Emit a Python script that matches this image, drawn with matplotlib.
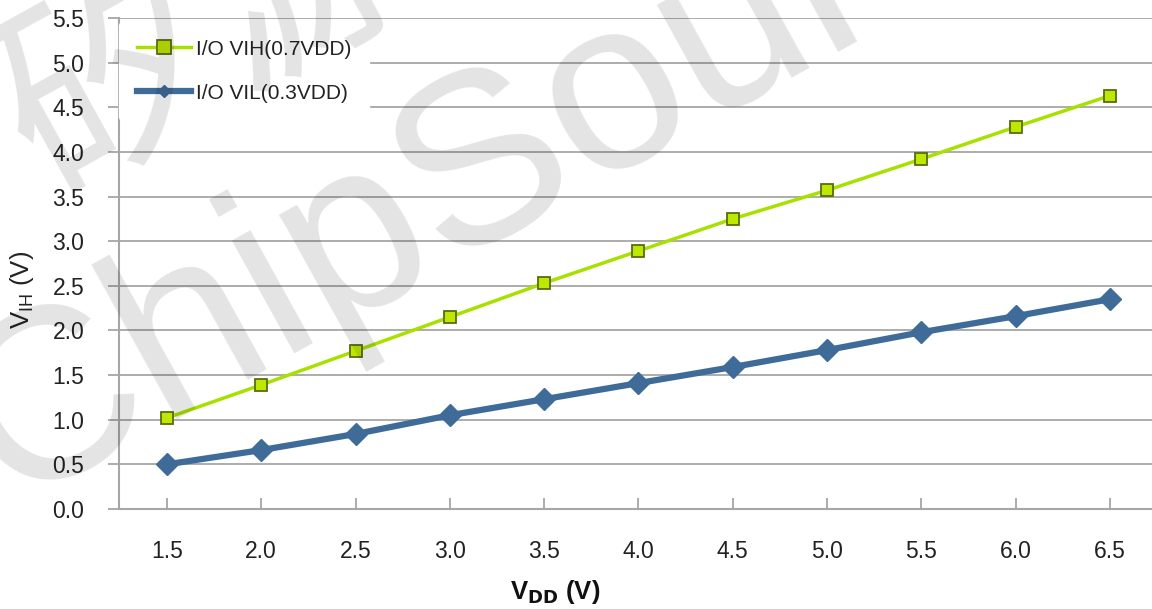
import numpy as np
import matplotlib
matplotlib.use('Agg')
import matplotlib.pyplot as plt

plt.rcParams['font.family'] = ['Liberation Sans', 'Noto Sans CJK SC', 'DejaVu Sans']

vdd = [1.5, 2.0, 2.5, 3.0, 3.5, 4.0, 4.5, 5.0, 5.5, 6.0, 6.5]
vih = [1.02, 1.39, 1.77, 2.15, 2.53, 2.89, 3.25, 3.57, 3.92, 4.28, 4.63]
vil = [0.50, 0.66, 0.84, 1.05, 1.23, 1.41, 1.59, 1.78, 1.98, 2.16, 2.35]
xticks = ['1.5', '2.0', '2.5', '3.0', '3.5', '4.0', '4.5', '5.0', '5.5', '6.0', '6.5']
yticks = np.arange(0, 5.51, 0.5)

grey = '#a6a6a6'
green = '#a8e000'
blue = '#3f6b99'

fig = plt.figure(figsize=(11.52, 6.09), dpi=100, facecolor='white')
ax = fig.add_axes([119/1152, 1-509/609, 1-119/1152, (509-18)/609])

ax.plot(vdd, vih, color=green, lw=2.5, marker='s', ms=8,
        mfc='#bfe800', mec='#5b6b10', mew=1.3, label='I/O VIH(0.7VDD)', zorder=4)
ax.plot(vdd, vil, color=blue, lw=4.5, marker='D', ms=11,
        mfc=blue, mec=blue, label='I/O VIL(0.3VDD)', zorder=4)

ax.set_xlim(1.5 - 0.254, 6.5 + 0.223)
ax.set_ylim(0, 5.5)
ax.set_xticks(vdd)
ax.set_xticklabels(xticks)
ax.set_yticks(yticks)
ax.set_yticklabels(['%.1f' % v for v in yticks])

ax.grid(axis='y', color=grey, lw=1.3, zorder=0)
ax.set_axisbelow(True)
for s in ['top', 'right']:
    ax.spines[s].set_visible(False)
for s in ['left', 'bottom']:
    ax.spines[s].set_color(grey)
    ax.spines[s].set_linewidth(1.5)

ax.tick_params(axis='y', direction='out', length=8, width=1.3, color=grey,
               pad=17, labelsize=16.5, labelcolor='#222222')
ax.tick_params(axis='x', direction='in', length=8, width=1.3, color=grey,
               pad=22, labelsize=16.5, labelcolor='#222222')

fig.text(22/1152, 1-290/609, r'V$_{\mathregular{IH}}$ (V)', rotation=90,
         ha='center', va='center', fontsize=18.5, color='#222222')
fig.text(555/1152, 1-592/609, r'V$_{\mathbf{DD}}$ (V)', ha='center', va='center',
         fontsize=18.5, fontweight='bold', color='#111111')

leg = ax.legend(loc='upper left', fontsize=15, frameon=True,
                facecolor='white', edgecolor='white', framealpha=1,
                handlelength=2.6, handletextpad=0.25, labelspacing=1.2,
                borderpad=0.85, borderaxespad=0)
leg.set_bbox_to_anchor((119/1152, 1 - 22/609), transform=fig.transFigure)
leg.legend_handles[0].set_markersize(10)
leg.legend_handles[1].set_markersize(6)
for t in leg.get_texts():
    t.set_color('#222222')

# watermark
fig.text(8/1152, 1-505/609, 'ChipSource', rotation=29, rotation_mode='anchor',
         fontsize=175, color='#000000', alpha=0.11, ha='left', va='baseline',
         zorder=10)
fig.text(45/1152, 1-195/609, '矽源', rotation=29, rotation_mode='anchor',
         fontsize=160, color='#000000', alpha=0.11, ha='left', va='baseline',
         zorder=10, family=['Noto Sans CJK SC'])

fig.savefig('out.png', dpi=100, facecolor='white')
